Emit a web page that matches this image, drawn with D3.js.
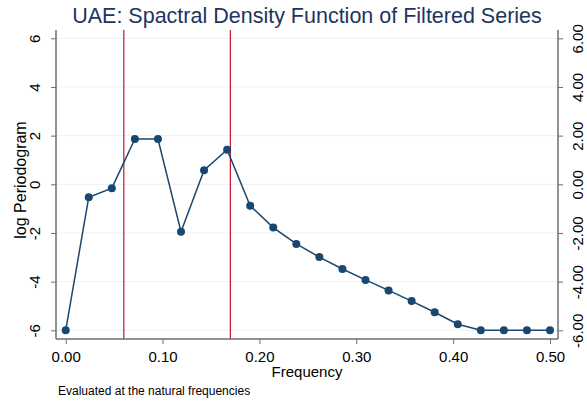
<!DOCTYPE html>
<html>
<head>
<meta charset="utf-8">
<script src="https://cdn.jsdelivr.net/npm/d3@7"></script>
<style>
  body { margin: 0; background: #fff; }
  text { font-family: "Liberation Sans", Arial, sans-serif; }
</style>
</head>
<body>
<div class="canvas"></div>
<script>
var W = 587, H = 404;
var margin = {top: 30, right: 29, bottom: 65, left: 56},
    width = W - margin.left - margin.right,
    height = H - margin.top - margin.bottom;

// periodogram at natural frequencies j/42
var freq = d3.range(22).map(function(j) { return j / 42; });
var logPer = [-6, -0.53, -0.16, 1.86, 1.86, -1.95, 0.58, 1.42, -0.88, -1.78, -2.45,
              -2.99, -3.48, -3.93, -4.36, -4.80, -5.26, -5.75, -6, -6, -6, -6];
var bands = [0.06, 0.17];
var yTicks = [-6, -4, -2, 0, 2, 4, 6];
var xTicks = [0, 0.1, 0.2, 0.3, 0.4, 0.5];

var navy = "#1a476f", axisCol = "#6e6e6e";

function hyph(f) { return function(d) { return f(d).replace("\u2212", "-"); }; }

var svg = d3.select(".canvas").append("svg")
    .attr("width", W)
    .attr("height", H);

var g = svg.append("g")
    .attr("transform", "translate(" + margin.left + "," + margin.top + ")");

var x = d3.scaleLinear().domain([0, 0.5]).range([9.7, 494]);
var y = d3.scaleLinear().domain([-6, 6]).range([300.3, 8.3]);

// grid
g.selectAll(".grid").data(yTicks).enter().append("line")
    .attr("class", "grid")
    .attr("x1", 0).attr("x2", width)
    .attr("y1", function(d) { return y(d); })
    .attr("y2", function(d) { return y(d); })
    .style("stroke", "#eaf2f3")
    .style("stroke-width", 1);

// band lines
g.selectAll(".band").data(bands).enter().append("line")
    .attr("class", "band")
    .attr("x1", function(d) { return x(d); })
    .attr("x2", function(d) { return x(d); })
    .attr("y1", 0).attr("y2", height)
    .style("stroke", "#c8102e")
    .style("stroke-width", 1.2);

// axes
var left = g.append("g")
    .call(d3.axisLeft(y).tickValues(yTicks).tickSize(5).tickFormat(hyph(d3.format("d"))));
var right = g.append("g")
    .attr("transform", "translate(" + width + ",0)")
    .call(d3.axisRight(y).tickValues(yTicks).tickSize(5).tickFormat(hyph(d3.format(".2f"))));
var bottom = g.append("g")
    .attr("transform", "translate(0," + height + ")")
    .call(d3.axisBottom(x).tickValues(xTicks).tickSize(5).tickFormat(d3.format(".2f")));

[left, right, bottom].forEach(function(a) {
  a.select(".domain").style("stroke", axisCol).style("stroke-width", 1.5);
  a.selectAll(".tick line").style("stroke", axisCol);
  a.selectAll(".tick text").style("font-size", "15px").style("fill", "#000")
    .style("font-family", "Liberation Sans, Arial, sans-serif");
});
left.select(".domain").attr("d", "M0,0V" + height);
right.select(".domain").attr("d", "M0,0V" + height);
bottom.select(".domain").attr("d", "M0,0H" + width);

left.selectAll(".tick text")
    .attr("transform", "rotate(-90)")
    .attr("x", 0).attr("y", -16)
    .attr("dy", 0)
    .attr("text-anchor", "middle");
right.selectAll(".tick text")
    .attr("transform", "rotate(-90)")
    .attr("x", 0).attr("y", 25)
    .attr("dy", 0)
    .attr("text-anchor", "middle");
bottom.selectAll(".tick text").attr("y", 23).attr("dy", 0);

// series
var line = d3.line()
    .x(function(d, i) { return x(freq[i]); })
    .y(function(d) { return y(d); });
g.append("path")
    .datum(logPer)
    .attr("d", line)
    .style("fill", "none")
    .style("stroke", navy)
    .style("stroke-width", 1.5);
g.selectAll(".pt").data(logPer).enter().append("circle")
    .attr("class", "pt")
    .attr("cx", function(d, i) { return x(freq[i]); })
    .attr("cy", function(d) { return y(d); })
    .attr("r", 4)
    .style("fill", navy);

// labels
svg.append("text")
    .attr("x", 307).attr("y", 23)
    .attr("text-anchor", "middle")
    .style("font-size", "21.5px")
    .style("fill", "#1e3560")
    .text("UAE: Spactral Density Function of Filtered Series");
svg.append("text")
    .attr("transform", "translate(26,180) rotate(-90)")
    .attr("text-anchor", "middle")
    .style("font-size", "16px")
    .text("log Periodogram");
svg.append("text")
    .attr("x", 307).attr("y", 377)
    .attr("text-anchor", "middle")
    .style("font-size", "15px")
    .text("Frequency");
svg.append("text")
    .attr("x", 58).attr("y", 395)
    .style("font-size", "12px")
    .text("Evaluated at the natural frequencies");
</script>
</body>
</html>
